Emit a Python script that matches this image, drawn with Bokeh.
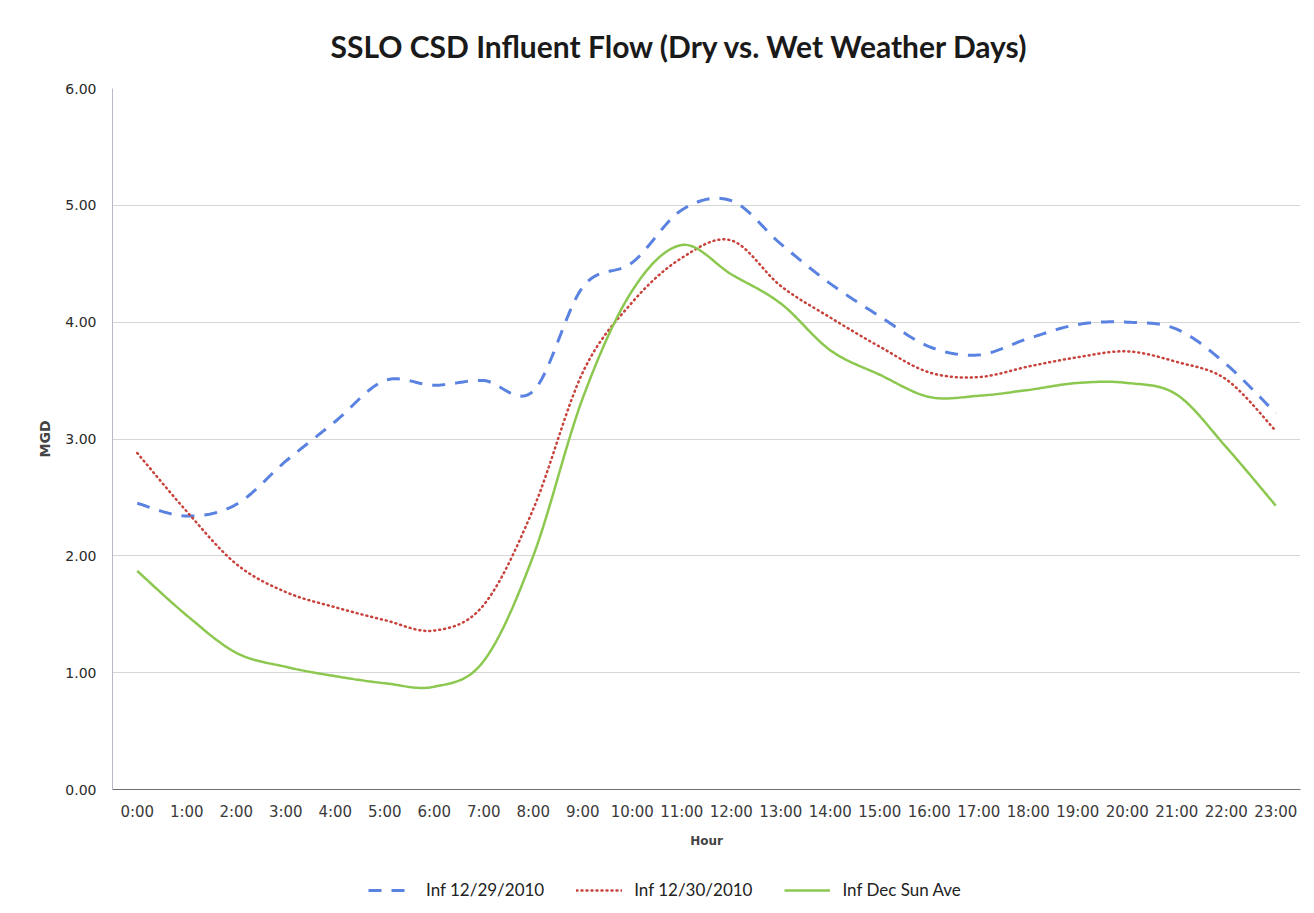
import numpy as np
from bokeh.plotting import figure
from bokeh.layouts import column
from bokeh.models import Range1d, FixedTicker, Legend, LegendItem, NumeralTickFormatter
from bokeh.embed import file_html
from bokeh.resources import INLINE

hour_labels = ["0:00", "1:00", "2:00", "3:00", "4:00", "5:00", "6:00", "7:00",
               "8:00", "9:00", "10:00", "11:00", "12:00", "13:00", "14:00", "15:00",
               "16:00", "17:00", "18:00", "19:00", "20:00", "21:00", "22:00", "23:00"]

inf_12_29 = [2.45, 2.34, 2.44, 2.81, 3.15, 3.50, 3.46, 3.50, 3.41, 4.30, 4.51, 4.96,
             5.04, 4.67, 4.33, 4.05, 3.79, 3.72, 3.86, 3.98, 4.00, 3.94, 3.64, 3.22]
inf_12_30 = [2.88, 2.38, 1.93, 1.69, 1.56, 1.45, 1.36, 1.58, 2.40, 3.57, 4.17, 4.55,
             4.70, 4.31, 4.04, 3.79, 3.57, 3.53, 3.62, 3.70, 3.75, 3.66, 3.51, 3.07]
inf_dec_sun = [1.87, 1.49, 1.17, 1.05, 0.97, 0.91, 0.88, 1.10, 2.00, 3.35, 4.27, 4.66,
               4.41, 4.16, 3.76, 3.55, 3.36, 3.37, 3.42, 3.48, 3.48, 3.38, 2.93, 2.43]

series_names = ["Inf 12/29/2010", "Inf 12/30/2010", "Inf Dec Sun Ave"]
series_colors = ["#5a82e0", "#c8423c", "#8cc850"]


def smooth(values, n=24):
    """Excel-style smoothed line (Catmull-Rom Bezier) through the data points."""
    y = np.asarray(values, dtype=float)
    x = np.arange(len(y), dtype=float)
    xs, ys = [], []
    m = len(y)
    for i in range(m - 1):
        i0, i3 = max(i - 1, 0), min(i + 2, m - 1)
        p0 = np.array([x[i], y[i]])
        p3 = np.array([x[i + 1], y[i + 1]])
        c1 = p0 + (np.array([x[i + 1], y[i + 1]]) - np.array([x[i0], y[i0]])) / 6.0
        c2 = p3 - (np.array([x[i3], y[i3]]) - np.array([x[i], y[i]])) / 6.0
        t = np.linspace(0, 1, n, endpoint=(i == m - 2))
        pts = ((1 - t) ** 3)[:, None] * p0 + (3 * (1 - t) ** 2 * t)[:, None] * c1 \
            + (3 * (1 - t) * t ** 2)[:, None] * c2 + (t ** 3)[:, None] * p3
        xs.extend(pts[:, 0]); ys.extend(pts[:, 1])
    return xs, ys


styles = [dict(line_width=3, line_dash="13 10"),
          dict(line_width=2.5, line_dash="1 4", line_cap="round"),
          dict(line_width=2.5)]
series = [inf_12_29, inf_12_30, inf_dec_sun]

p = figure(width=1310, height=859, output_backend="svg", toolbar_location=None,
           x_range=Range1d(-0.5, 23.5), y_range=Range1d(0, 6),
           min_border_left=112, min_border_right=10, min_border_top=86, min_border_bottom=70)
p.outline_line_color = None
p.background_fill_color = "white"
p.border_fill_color = "white"

p.title.text = "SSLO CSD Influent Flow (Dry vs. Wet Weather Days)"
p.title.align = "left"
p.title.offset = 218
p.title.text_font = "Lato"
p.title.text_font_style = "bold"
p.title.text_font_size = "30px"
p.title.text_color = "#1a1a1a"
p.title.standoff = 50

# y axis
p.yaxis.ticker = FixedTicker(ticks=[0, 1, 2, 3, 4, 5, 6])
p.yaxis.formatter = NumeralTickFormatter(format="0.00")
p.yaxis.major_label_text_font = "DejaVu Sans"
p.yaxis.major_label_text_font_size = "14px"
p.yaxis.major_label_text_color = "#2a2a2a"
p.yaxis.major_tick_line_color = None
p.yaxis.minor_tick_line_color = None
p.yaxis.axis_line_color = "#b8b8c8"
p.yaxis.major_label_standoff = 10
p.yaxis.axis_label = "MGD"
p.yaxis.axis_label_text_font = "DejaVu Sans"
p.yaxis.axis_label_text_font_style = "bold"
p.yaxis.axis_label_text_font_size = "14px"
p.yaxis.axis_label_standoff = 9
p.ygrid.grid_line_color = "#d6d6d6"
p.xgrid.grid_line_color = None

# x axis
p.xaxis.ticker = FixedTicker(ticks=list(range(len(hour_labels))))
p.xaxis.major_label_overrides = {i: lab for i, lab in enumerate(hour_labels)}
p.xaxis.major_label_text_font = "DejaVu Sans"
p.xaxis.major_label_text_font_size = "15px"
p.xaxis.major_label_text_color = "#3a3a3a"
p.xaxis.major_tick_line_color = None
p.xaxis.minor_tick_line_color = None
p.xaxis.axis_line_color = "#6f6f6f"
p.xaxis.major_label_standoff = 7
p.xaxis.axis_label = "Hour"
p.xaxis.axis_label_text_font = "DejaVu Sans"
p.xaxis.axis_label_text_font_style = "bold"
p.xaxis.axis_label_text_font_size = "12px"
p.xaxis.axis_label_standoff = 10

for vals, col, st in zip(series, series_colors, styles):
    xs, ys = smooth(vals)
    p.line(xs, ys, line_color=col, **st)

# legend strip below the chart (series drawn out of view; only the legend shows)
pl = figure(width=1310, height=52, output_backend="svg", toolbar_location=None,
            x_axis_type=None, y_axis_type=None, x_range=Range1d(100, 101), y_range=Range1d(100, 101),
            min_border_left=112, min_border_right=10, min_border_top=0, min_border_bottom=0)
pl.outline_line_color = None
pl.xgrid.visible = False
pl.ygrid.visible = False
items = []
for name, vals, col, st in zip(series_names, series, series_colors, styles):
    r = pl.line(list(range(len(vals))), vals, line_color=col, **st)
    items.append(LegendItem(label=name, renderers=[r]))
legend = Legend(items=items, orientation="horizontal", location=(256, 11),
                label_text_font="Lato", label_text_font_size="17px", label_text_color="#222222",
                glyph_width=46, label_standoff=12, spacing=32, margin=0, padding=4,
                border_line_color=None, background_fill_alpha=0)
pl.add_layout(legend, "center")

layout = column(p, pl, spacing=0)
open("out.html", "w").write(file_html(layout, INLINE))
